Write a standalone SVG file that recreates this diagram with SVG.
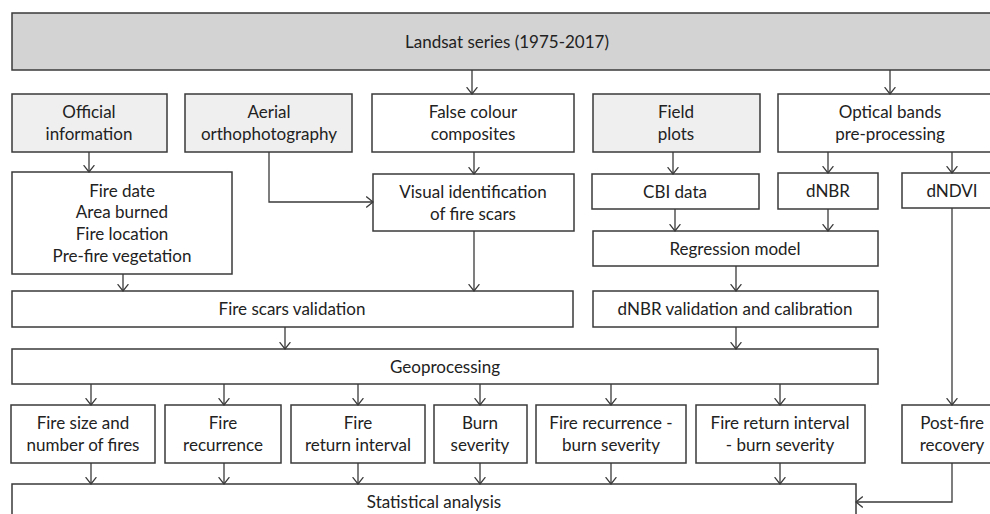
<svg xmlns="http://www.w3.org/2000/svg" width="990" height="514" viewBox="0 0 990 514">
<defs>
<marker id="arr" viewBox="0 0 8 12" refX="7.4" refY="6" markerWidth="8" markerHeight="12" markerUnits="userSpaceOnUse" orient="auto">
<path d="M0.6,0.6 L7.4,6 L0.6,11.4" fill="none" stroke="#3a3a3a" stroke-width="1.3"/>
</marker>
<style>
rect{stroke:#3a3a3a;stroke-width:1.5;fill:#ffffff}
.g1{fill:#d3d3d3}
.g2{fill:#efefef}
text{font-family:Lato,"Liberation Sans",sans-serif;font-size:17px;fill:#222;text-anchor:middle}
.c line,.c path{stroke:#3a3a3a;stroke-width:1.3;fill:none;marker-end:url(#arr)}
</style>
</defs>
<rect x="0" y="0" width="990" height="514" style="fill:#fff;stroke:none"/>
<g id="landsat"><rect class="g1" x="12" y="13" width="990" height="57"/><text x="507" y="48">Landsat series (1975-2017)</text></g>
<g id="official"><rect class="g2" x="12" y="94" width="155" height="58"/><text x="89" y="118">Official</text><text x="89" y="140">information</text></g>
<g id="aerial"><rect class="g2" x="185" y="94" width="167" height="58"/><text x="269" y="118">Aerial</text><text x="269" y="140">orthophotography</text></g>
<g id="falsecolour"><rect x="372" y="94" width="202" height="58"/><text x="473" y="118">False colour</text><text x="473" y="140">composites</text></g>
<g id="field"><rect class="g2" x="593" y="94" width="167" height="58"/><text x="676" y="118">Field</text><text x="676" y="140">plots</text></g>
<g id="optical"><rect x="778" y="94" width="224" height="58"/><text x="890" y="118">Optical bands</text><text x="890" y="140">pre-processing</text></g>
<g id="firedate"><rect x="12" y="172" width="220" height="102"/><text x="122" y="197">Fire date</text><text x="122" y="218">Area burned</text><text x="122" y="240">Fire location</text><text x="122" y="262">Pre-fire vegetation</text></g>
<g id="visual"><rect x="373" y="174" width="201" height="57"/><text x="473" y="198">Visual identification</text><text x="473" y="220">of fire scars</text></g>
<g id="cbi"><rect x="592" y="174" width="167" height="35"/><text x="675" y="198">CBI data</text></g>
<g id="dnbr"><rect x="778" y="173" width="100" height="36"/><text x="828" y="197">dNBR</text></g>
<g id="dndvi"><rect x="902" y="173" width="100" height="35"/><text x="952" y="197">dNDVI</text></g>
<g id="regression"><rect x="593" y="231" width="285" height="35"/><text x="735" y="255">Regression model</text></g>
<g id="scarsval"><rect x="12" y="291" width="561" height="36"/><text x="292" y="315">Fire scars validation</text></g>
<g id="dnbrval"><rect x="593" y="291" width="285" height="36"/><text x="735" y="315">dNBR validation and calibration</text></g>
<g id="geoproc"><rect x="12" y="349" width="866" height="35"/><text x="445" y="373">Geoprocessing</text></g>
<g id="firesize"><rect x="11" y="405" width="144" height="58"/><text x="83" y="429">Fire size and</text><text x="83" y="451">number of fires</text></g>
<g id="firerec"><rect x="165" y="405" width="116" height="58"/><text x="223" y="429">Fire</text><text x="223" y="451">recurrence</text></g>
<g id="fireret"><rect x="291" y="405" width="134" height="58"/><text x="358" y="429">Fire</text><text x="358" y="451">return interval</text></g>
<g id="burnsev"><rect x="434" y="405" width="93" height="58"/><text x="480" y="429">Burn</text><text x="480" y="451">severity</text></g>
<g id="recsev"><rect x="536" y="405" width="150" height="58"/><text x="611" y="429">Fire recurrence -</text><text x="611" y="451">burn severity</text></g>
<g id="retsev"><rect x="696" y="405" width="169" height="58"/><text x="780" y="429">Fire return interval</text><text x="780" y="451">- burn severity</text></g>
<g id="postfire"><rect x="902" y="405" width="100" height="58"/><text x="952" y="429">Post-fire</text><text x="952" y="451">recovery</text></g>
<g id="stats"><rect x="12" y="484" width="844" height="40"/><text x="434" y="508">Statistical analysis</text></g>
<g class="c" id="connectors">
<line x1="472" y1="70" x2="472" y2="94"/>
<line x1="890" y1="70" x2="890" y2="94"/>
<line x1="89" y1="152" x2="89" y2="172"/>
<line x1="474" y1="152" x2="474" y2="174"/>
<path d="M269,152 V202 H373"/>
<line x1="673" y1="152" x2="673" y2="174"/>
<line x1="828" y1="152" x2="828" y2="173"/>
<line x1="952" y1="152" x2="952" y2="173"/>
<line x1="675" y1="209" x2="675" y2="231"/>
<line x1="828" y1="209" x2="828" y2="231"/>
<line x1="952" y1="208" x2="952" y2="405"/>
<line x1="123" y1="274" x2="123" y2="291"/>
<line x1="474" y1="231" x2="474" y2="291"/>
<line x1="736" y1="266" x2="736" y2="291"/>
<line x1="285" y1="327" x2="285" y2="349"/>
<line x1="736" y1="327" x2="736" y2="349"/>
<line x1="91" y1="384" x2="91" y2="405"/>
<line x1="224" y1="384" x2="224" y2="405"/>
<line x1="358" y1="384" x2="358" y2="405"/>
<line x1="480" y1="384" x2="480" y2="405"/>
<line x1="611" y1="384" x2="611" y2="405"/>
<line x1="780" y1="384" x2="780" y2="405"/>
<line x1="91" y1="463" x2="91" y2="484"/>
<line x1="224" y1="463" x2="224" y2="484"/>
<line x1="358" y1="463" x2="358" y2="484"/>
<line x1="480" y1="463" x2="480" y2="484"/>
<line x1="611" y1="463" x2="611" y2="484"/>
<line x1="780" y1="463" x2="780" y2="484"/>
<path d="M952,463 V502 H856"/>
</g>
</svg>
